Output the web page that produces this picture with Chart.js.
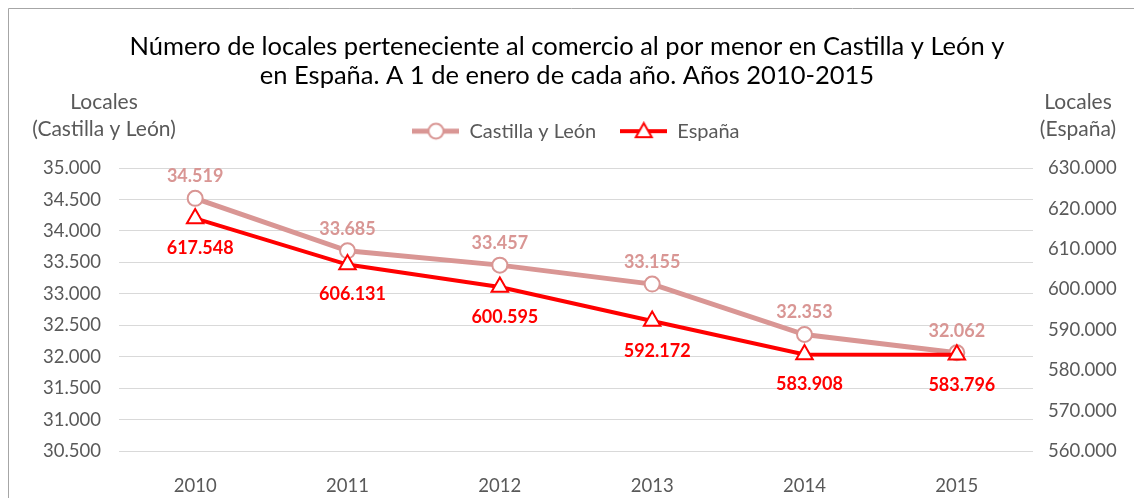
<!DOCTYPE html>
<html>
<head>
<meta charset="utf-8">
<script src="https://cdn.jsdelivr.net/npm/chart.js@4"></script>
<style>
  html, body { margin: 0; padding: 0; background: #fff; }
  #wrap { width: 1134px; height: 498px; }
</style>
</head>
<body>
<div id="wrap"><canvas id="myChart" width="1134" height="498"></canvas></div>
<script>
const years = ["2010", "2011", "2012", "2013", "2014", "2015"];
const castillaLeon = [34519, 33685, 33457, 33155, 32353, 32062];
const espana = [617548, 606131, 600595, 592172, 583908, 583796];

const FONT = "Lato, 'Noto Sans', sans-serif";
const pink = "#d99694";
const red = "#ff0000";
const grey = "#595959";

// numbers with a dot as thousands separator
const fmt = (v) => String(Math.round(v)).replace(/\B(?=(\d{3})+(?!\d))/g, ".");

// legend symbols: a short line with the marker in the middle
const legendSymbol = (color, width, marker) => {
  const c = document.createElement("canvas");
  c.width = 47;
  c.height = 20;
  const ctx = c.getContext("2d");
  ctx.strokeStyle = color;
  ctx.lineWidth = width;
  ctx.beginPath();
  ctx.moveTo(0, 10);
  ctx.lineTo(47, 10);
  ctx.stroke();
  ctx.fillStyle = "#fff";
  ctx.lineWidth = 2;
  ctx.beginPath();
  if (marker === "circle") {
    ctx.arc(23.5, 10, 7.5, 0, Math.PI * 2);
  } else {
    ctx.moveTo(23.5, 2);
    ctx.lineTo(31.5, 16);
    ctx.lineTo(15.5, 16);
    ctx.closePath();
  }
  ctx.fill();
  ctx.stroke();
  return c;
};

const frame = {
  id: "frame",
  beforeDraw(chart) {
    const ctx = chart.ctx;
    ctx.save();
    ctx.fillStyle = "#fff";
    ctx.fillRect(0, 0, chart.width, chart.height);
    ctx.strokeStyle = "#a6a6a6";
    ctx.lineWidth = 1;
    ctx.beginPath();
    ctx.moveTo(8.5, chart.height);
    ctx.lineTo(8.5, 8.5);
    ctx.lineTo(chart.width, 8.5);
    ctx.stroke();
    ctx.restore();
  },
  afterDraw(chart) {
    // axis titles, horizontal, above the value axes
    const ctx = chart.ctx;
    ctx.save();
    ctx.font = "21px " + FONT;
    ctx.fillStyle = grey;
    ctx.textAlign = "center";
    ctx.textBaseline = "middle";
    ctx.fillText("Locales", 104, 102);
    ctx.fillText("(Castilla y León)", 104, 129);
    ctx.fillText("Locales", 1078, 102);
    ctx.fillText("(España)", 1078, 129);
    ctx.restore();
  },
};

const valueLabels = {
  id: "valueLabels",
  afterDatasetsDraw(chart) {
    const ctx = chart.ctx;
    ctx.save();
    ctx.font = "bold 18px " + FONT;
    ctx.textAlign = "center";
    ctx.textBaseline = "middle";
    chart.data.datasets.forEach((ds, i) => {
      const meta = chart.getDatasetMeta(i);
      meta.data.forEach((pt, j) => {
        ctx.fillStyle = ds.borderColor;
        if (i === 0) {
          ctx.fillText(fmt(ds.data[j]), pt.x, pt.y - 22);
        } else {
          ctx.fillText(fmt(ds.data[j]), pt.x + 5, pt.y + 30);
        }
      });
    });
    ctx.restore();
  },
};

const myChart = new Chart(document.getElementById("myChart"), {
  type: "line",
  data: {
    labels: years,
    datasets: [
      {
        label: "Castilla y León",
        data: castillaLeon,
        yAxisID: "y",
        borderColor: pink,
        borderWidth: 5,
        pointStyle: "circle",
        pointRadius: 7.5,
        pointBorderWidth: 2,
        pointBackgroundColor: "#fff",
        pointBorderColor: pink,
        order: 1,
      },
      {
        label: "España",
        data: espana,
        yAxisID: "y1",
        borderColor: red,
        borderWidth: 4,
        pointStyle: "triangle",
        pointRadius: 9.5,
        pointBorderWidth: 2,
        pointBackgroundColor: "#fff",
        pointBorderColor: red,
        order: 0,
      },
    ],
  },
  options: {
    responsive: false,
    animation: false,
    layout: { padding: 0 },
    plugins: {
      title: {
        display: true,
        text: [
          "Número de locales perteneciente al comercio al por menor en Castilla y León y",
          "en España. A 1 de enero de cada año. Años 2010-2015",
        ],
        color: "#000",
        font: { family: FONT, size: 25.5, weight: "normal", lineHeight: 1.14 },
        padding: { top: 32, bottom: 7 },
      },
      legend: {
        display: true,
        fullSize: false,
        labels: {
          color: grey,
          font: { family: FONT, size: 20 },
          padding: 24,
          usePointStyle: true,
          pointStyleWidth: 47,
          generateLabels: (chart) =>
            chart.data.datasets.map((ds, i) => ({
              text: ds.label,
              pointStyle: i === 0 ? legendSymbol(pink, 5, "circle") : legendSymbol(red, 4, "triangle"),
              fontColor: grey,
              datasetIndex: i,
              lineWidth: 0,
            })),
        },
      },
      tooltip: { enabled: false },
    },
    scales: {
      x: {
        offset: true,
        grid: { display: false },
        border: { display: false },
        ticks: { color: grey, font: { family: FONT, size: 18.5 }, padding: 16 },
        afterFit: (s) => { s.height = 47; },
      },
      // empty band between the legend and the plot
      xTop: {
        type: "category",
        position: "top",
        grid: { display: false, drawTicks: false },
        border: { display: false },
        ticks: { display: false },
        afterFit: (s) => { s.height = 17; },
      },
      y: {
        position: "left",
        min: 30500,
        max: 35000,
        ticks: {
          stepSize: 500,
          color: grey,
          font: { family: FONT, size: 18.5 },
          padding: 18,
          callback: (v) => fmt(v),
        },
        grid: { color: "#d9d9d9", lineWidth: 1, drawTicks: false },
        border: { display: false },
        afterFit: (s) => { s.width = 119; },
      },
      y1: {
        position: "right",
        min: 560000,
        max: 630000,
        ticks: {
          stepSize: 10000,
          color: grey,
          font: { family: FONT, size: 18.5 },
          padding: 15,
          callback: (v) => fmt(v),
        },
        grid: { display: false, drawTicks: false },
        border: { display: false },
        afterFit: (s) => { s.width = 101; },
      },
    },
  },
  plugins: [frame, valueLabels],
});
</script>
</body>
</html>
